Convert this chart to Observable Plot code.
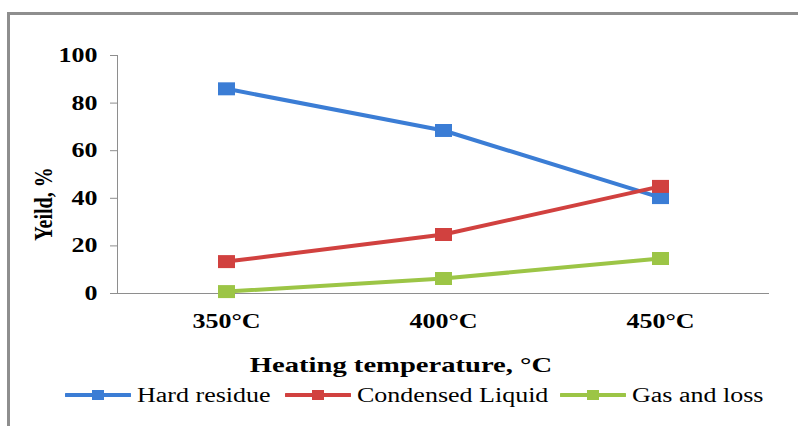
<!DOCTYPE html>
<html><head><meta charset="utf-8">
<script src="https://cdn.jsdelivr.net/npm/d3@7"></script>
<script src="https://cdn.jsdelivr.net/npm/@observablehq/plot@0.6"></script>
<style>
body{margin:0;background:#fff;width:798px;height:426px;overflow:hidden;position:relative;font-family:"Liberation Serif","Times New Roman",serif;}
#frame{position:absolute;left:7px;top:12px;width:820px;height:440px;border-left:3px solid #8e8e8e;border-top:3px solid #8e8e8e;}
#chart{position:absolute;left:0;top:0;}
#chart svg text{fill:#000;font-family:"Liberation Serif","Times New Roman",serif;font-size:20px;font-weight:bold;}
.lbl{position:absolute;font-weight:bold;font-size:21px;white-space:nowrap;color:#000;}
#ylabel{left:44px;top:204px;transform:translate(-50%,-50%) rotate(-90deg) scaleY(1.3);font-size:20px;}
#xlabel{left:401px;top:365px;transform:translate(-50%,-50%) scaleX(1.3);font-size:22px;}
.leg{position:absolute;top:395px;height:0;}
.leg svg{position:absolute;left:0;top:-6px;}
.leg span{position:absolute;left:72px;top:-12px;font-size:20px;line-height:24px;white-space:nowrap;transform-origin:left center;transform:scaleX(1.3);color:#000;}
</style></head>
<body>
<div id="frame"></div>
<div id="chart"></div>
<div id="ylabel" class="lbl"></div>
<div id="xlabel" class="lbl"></div>
<div id="legend"></div>
<script>
const categories = ["350°C", "400°C", "450°C"];
const seriesNames = ["Hard residue", "Condensed Liquid", "Gas and loss"];
const hardResidue = [86, 68.5, 40.3];
const condensedLiquid = [13.4, 24.8, 45];
const gasAndLoss = [0.8, 6.3, 14.7];
const yTicks = [0, 20, 40, 60, 80, 100];
const colors = ["#3b7dd5", "#d1413f", "#9cc546"];
const xTitle = "Heating temperature, °C";
const yTitle = "Yeild, %";

const table = [];
[hardResidue, condensedLiquid, gasAndLoss].forEach((vals, i) =>
  vals.forEach((v, j) => table.push({series: seriesNames[i], temp: categories[j], value: v})));

const rectSym = {draw(ctx, size) {
  ctx.moveTo(-8.5, -6.5); ctx.lineTo(8.5, -6.5); ctx.lineTo(8.5, 6.5); ctx.lineTo(-8.5, 6.5); ctx.closePath();
}};

const plot = Plot.plot({
  width: 798, height: 375,
  marginLeft: 117, marginRight: 30, marginTop: 55, marginBottom: 82,
  style: {color: "#8e8e8e", background: "transparent", overflow: "visible"},
  x: {type: "point", domain: categories, padding: 0.5, tickSize: 0, tickPadding: 20, label: null, line: true},
  y: {domain: [0, 100], ticks: yTicks, tickSize: 7, tickPadding: 13, label: null, line: true},
  color: {domain: seriesNames, range: colors},
  marks: [
    Plot.line(table, {x: "temp", y: "value", z: "series", stroke: "series", strokeWidth: 4, strokeLinecap: "round", strokeLinejoin: "round"}),
    Plot.dot(table, {x: "temp", y: "value", fill: "series", symbol: rectSym, r: 5})
  ]
});
document.getElementById("chart").appendChild(plot);
plot.querySelectorAll("text").forEach(t => {
  const w = t.getComputedTextLength();
  t.setAttribute("textLength", w * 1.3);
  t.setAttribute("lengthAdjust", "spacingAndGlyphs");
});

document.getElementById("ylabel").textContent = yTitle;
document.getElementById("xlabel").textContent = xTitle;

const legendLeft = [65, 285, 560];
const legend = document.getElementById("legend");
seriesNames.forEach((name, i) => {
  const d = document.createElement("div");
  d.className = "leg";
  d.style.left = legendLeft[i] + "px";
  d.innerHTML = `<svg width="66" height="12"><line x1="1" y1="6" x2="65" y2="6" stroke="${colors[i]}" stroke-width="4" stroke-linecap="round"/><rect x="27" y="1" width="12" height="10" fill="${colors[i]}"/></svg><span>${name}</span>`;
  legend.appendChild(d);
});
</script>
</body></html>
